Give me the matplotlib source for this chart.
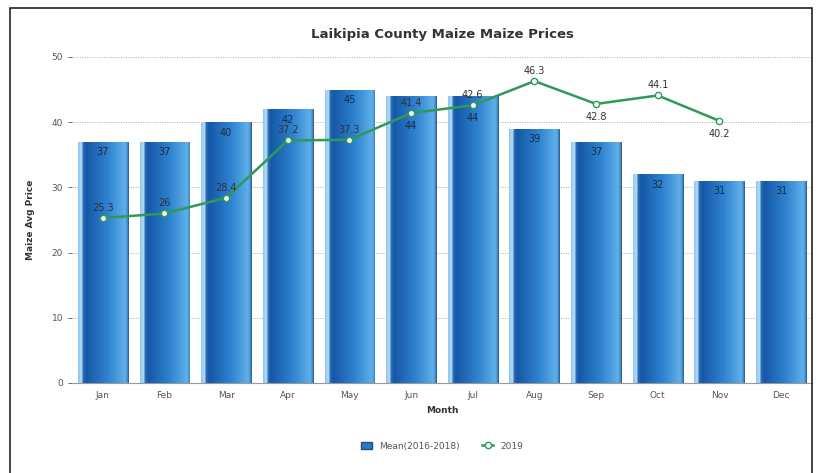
import numpy as np
import matplotlib.pyplot as plt
from matplotlib.colors import LinearSegmentedColormap
from matplotlib.patches import Patch, Rectangle
from matplotlib.lines import Line2D

months = ["Jan", "Feb", "Mar", "Apr", "May", "Jun",
          "Jul", "Aug", "Sep", "Oct", "Nov", "Dec"]
mean_prices = [37, 37, 40, 42, 45, 44, 44, 39, 37, 32, 31, 31]
prices_2019 = [25.3, 26, 28.4, 37.2, 37.3, 41.4, 42.6, 46.3, 42.8, 44.1, 40.2]
below_labels = {"Sep", "Nov"}

fig = plt.figure(figsize=(8.19, 4.73), dpi=100)
ax = fig.add_axes([0.0879, 0.1903, 0.9035, 0.6892])

# outer frame
fig.patches.append(Rectangle((0.012, -0.05), 0.979, 1.033, transform=fig.transFigure,
                             fill=False, edgecolor="#222222", linewidth=1.2))

x = np.arange(len(months))
width = 0.81
bars = ax.bar(x, mean_prices, width=width, color="#2a78c8", edgecolor="#1d4f85",
              linewidth=0.6, zorder=2)

# shaded bars: light strip on the left, then dark-to-light blue
cmap = LinearSegmentedColormap.from_list(
    "barshade",
    [(0.0, "#8fc6ee"), (0.07, "#b9def6"), (0.10, "#2a6db4"),
     (0.16, "#1558a8"), (0.6, "#2f82cf"), (0.95, "#5fb0ea"), (1.0, "#3d85c6")])
grad = np.linspace(0, 1, 200).reshape(1, -1)
for rect in bars:
    x0 = rect.get_x()
    im = ax.imshow(grad, extent=[x0, x0 + rect.get_width(), 0, rect.get_height()],
                   aspect="auto", cmap=cmap, zorder=2.1)
    im.set_clip_path(rect)

# bar value labels, pushed under the line marker when it sits near the bar top
for i, v in enumerate(mean_prices):
    y = v - 1.6
    if i < len(prices_2019) and 0 < v - prices_2019[i] < 3.5:
        y = prices_2019[i] - 2.0
    ax.text(x[i], y, f"{v}", ha="center", va="center", fontsize=7,
            color="#1a2b44", zorder=4)

xl = x[:len(prices_2019)]
ax.plot(xl, prices_2019, color="#2f9a55", linewidth=1.8, marker="o",
        markersize=4.5, markerfacecolor="white", markeredgecolor="#2f9a55",
        markeredgewidth=1.0, zorder=5)
for xi, v, m in zip(xl, prices_2019, months):
    if m in below_labels:
        ax.text(xi, v - 1.3, f"{v:g}", ha="center", va="top", fontsize=7,
                color="#333333", zorder=6)
    else:
        ax.text(xi, v + 0.8, f"{v:g}", ha="center", va="bottom", fontsize=7,
                color="#333333", zorder=6)

ax.set_xlim(-0.5, len(months) - 0.5)
ax.set_ylim(0, 50)
ax.set_yticks(range(0, 51, 10))
ax.set_xticks(x)
ax.set_xticklabels(months)
ax.tick_params(axis="both", labelsize=6.5, colors="#555555", length=3, width=0.6)
ax.tick_params(axis="x", length=0, pad=6)
ax.grid(axis="y", linestyle=(0, (1, 1.5)), color="#aaaaaa", linewidth=0.7, zorder=0)
ax.set_axisbelow(True)
for s in ["top", "right", "left"]:
    ax.spines[s].set_visible(False)
ax.spines["bottom"].set_color("#999999")

ax.set_title("Laikipia County Maize Maize Prices", fontsize=9.5, fontweight="bold",
             color="#333333", pad=14)
ax.set_xlabel("Month", fontsize=6.5, fontweight="bold", color="#333333", labelpad=4)
ax.set_ylabel("Maize Avg Price", fontsize=6.5, fontweight="bold", color="#333333",
              labelpad=12)

handles = [Patch(facecolor="#2a78c8", edgecolor="#1d4f85", label="Mean(2016-2018)"),
           Line2D([], [], color="#2f9a55", marker="o", markerfacecolor="white",
                  markersize=4.5, linewidth=1.8, label="2019")]
fig.legend(handles=handles, loc="center", bbox_to_anchor=(0.54, 0.057), ncol=2,
           frameon=False, fontsize=6.5, labelcolor="#555555", handlelength=1.2,
           columnspacing=2.5)

fig.savefig("out.png", dpi=100)
